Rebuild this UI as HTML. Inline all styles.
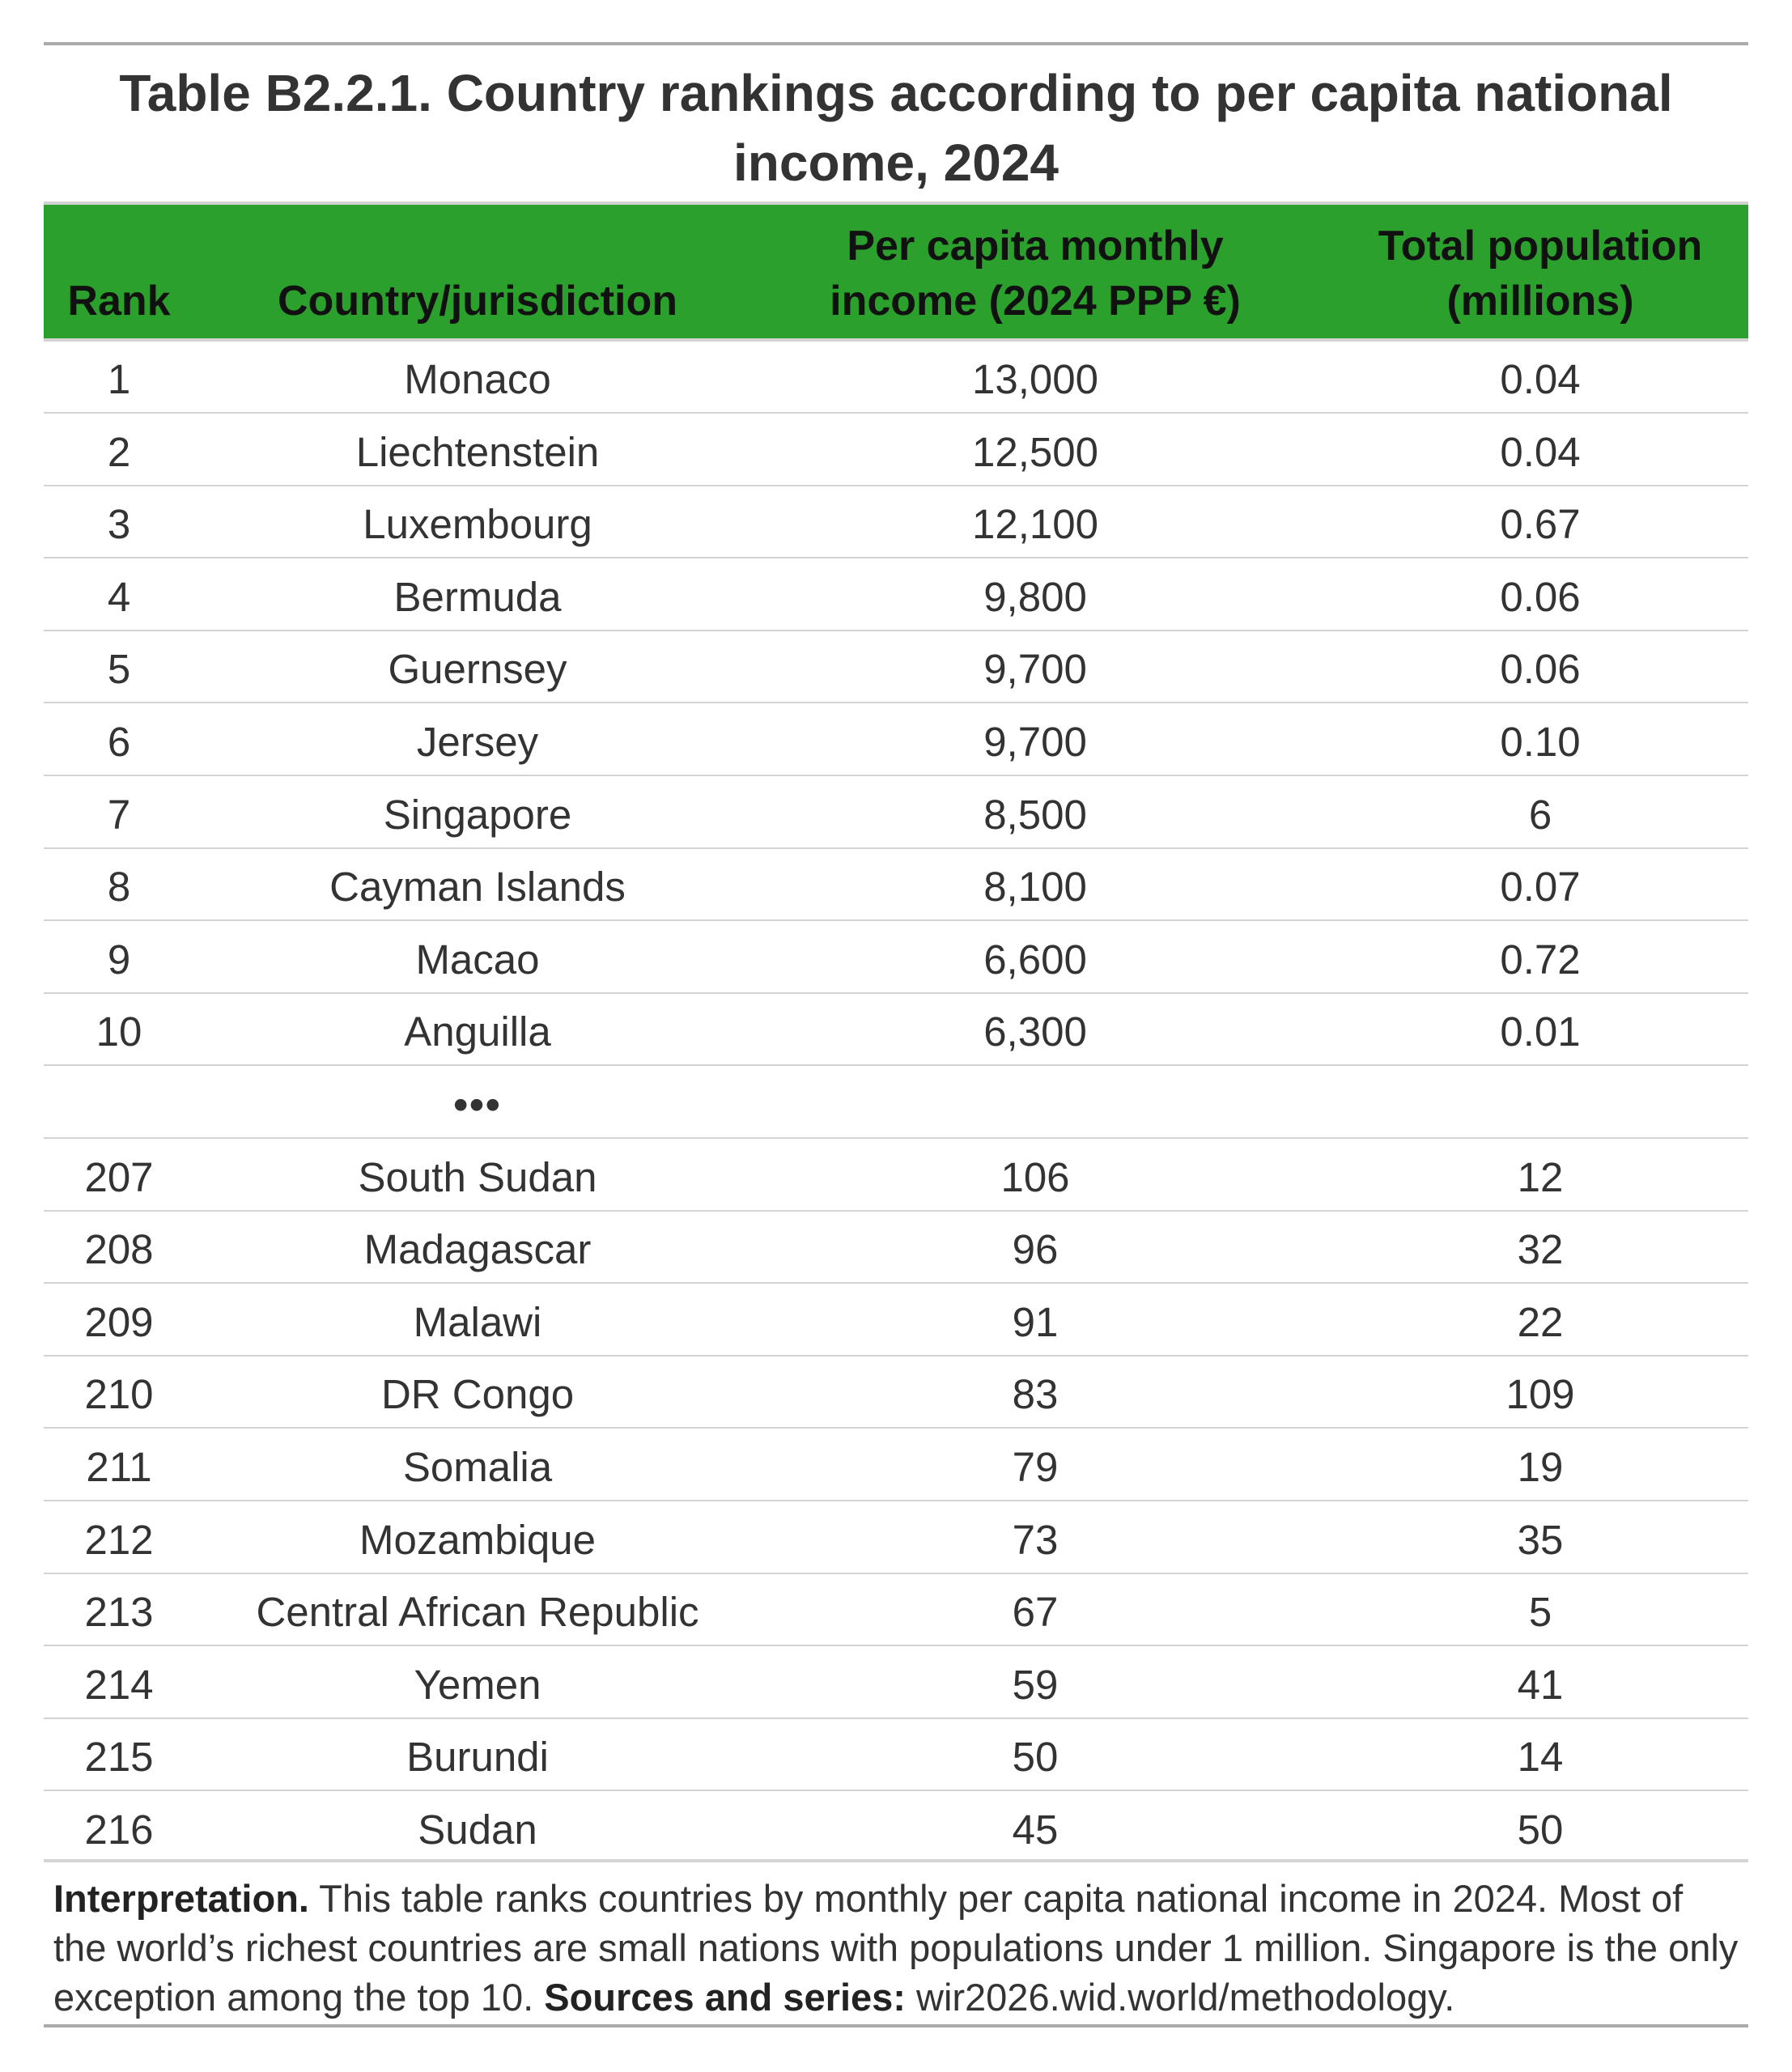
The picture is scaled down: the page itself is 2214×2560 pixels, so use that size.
<!DOCTYPE html>
<html><head><meta charset="utf-8"><style>
body{margin:0;width:2214px;height:2560px;background:#fff;position:relative;font-family:"Liberation Sans",sans-serif;color:#333;overflow:hidden}
.a{position:absolute}
.c{position:absolute;text-align:center;white-space:nowrap}
.rule{position:absolute;left:54px;width:2106px}
.h{font-weight:bold;color:#111;font-size:52px;line-height:68px}
.r{font-size:51px;line-height:89px;color:#333}
</style></head><body>
<div class="rule" style="top:52px;height:4px;background:#aaa"></div>
<div class="c" style="left:54px;width:2106px;top:72px;font-size:64px;font-weight:bold;line-height:86px;color:#333">Table B2.2.1. Country rankings according to per capita national<br>income, 2024</div>
<div class="rule" style="top:249px;height:4px;background:#d3d3d3"></div>
<div class="rule" style="top:253px;height:165px;background:#2ca02c"></div>
<div class="rule" style="top:418px;height:4px;background:#d3d3d3"></div>
<div class="c h" style="left:54px;width:186px;top:338px">Rank</div>
<div class="c h" style="left:240px;width:700px;top:338px">Country/jurisdiction</div>
<div class="c h" style="left:940px;width:678px;top:270px">Per capita monthly<br>income (2024 PPP €)</div>
<div class="c h" style="left:1618px;width:570px;top:270px">Total population<br>(millions)</div>
<div id="rows"></div>
<script>
var d=[["1","Monaco","13,000","0.04"],["2","Liechtenstein","12,500","0.04"],["3","Luxembourg","12,100","0.67"],["4","Bermuda","9,800","0.06"],["5","Guernsey","9,700","0.06"],["6","Jersey","9,700","0.10"],["7","Singapore","8,500","6"],["8","Cayman Islands","8,100","0.07"],["9","Macao","6,600","0.72"],["10","Anguilla","6,300","0.01"],["","•••","",""],["207","South Sudan","106","12"],["208","Madagascar","96","32"],["209","Malawi","91","22"],["210","DR Congo","83","109"],["211","Somalia","79","19"],["212","Mozambique","73","35"],["213","Central African Republic","67","5"],["214","Yemen","59","41"],["215","Burundi","50","14"],["216","Sudan","45","50"]];
var cols=[[54,186],[240,700],[940,678],[1618,570]];var h="";
for(var i=0;i<d.length;i++){var t=424+i*89.6;
for(var j=0;j<4;j++){h+='<div class="c r" style="left:'+cols[j][0]+'px;width:'+cols[j][1]+'px;top:'+t+'px'+(d[i][1]=="•••"&&j==1?';font-weight:bold;letter-spacing:2px':'')+'">'+d[i][j]+'</div>';}
if(i<d.length-1)h+='<div class="rule" style="top:'+(t+85)+'px;height:2px;background:#d3d3d3"></div>';}
document.getElementById('rows').innerHTML=h;
</script>
<div class="rule" style="top:2297px;height:4px;background:#d3d3d3"></div>
<div class="a" style="left:66px;top:2315px;font-size:47px;line-height:61px;color:#333;white-space:nowrap"><b style="color:#222">Interpretation.</b> This table ranks countries by monthly per capita national income in 2024. Most of<br>the world’s richest countries are small nations with populations under 1 million. Singapore is the only<br>exception among the top 10. <b style="color:#222">Sources and series:</b> wir2026.wid.world/methodology.</div>
<div class="rule" style="top:2501px;height:4px;background:#aaa"></div>
</body></html>
